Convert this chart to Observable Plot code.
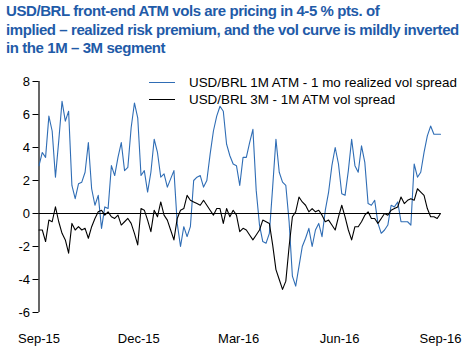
<!DOCTYPE html>
<html>
<head>
<meta charset="utf-8">
<script src="https://cdn.jsdelivr.net/npm/d3@7"></script>
<script src="https://cdn.jsdelivr.net/npm/@observablehq/plot@0.6"></script>
<style>
  html, body { margin: 0; padding: 0; background: #fff; }
  #wrap { position: relative; width: 473px; height: 352px; overflow: hidden; font-family: "Liberation Sans", Arial, sans-serif; }
  #title { position: absolute; left: 6px; top: 2px; color: #1f5ba8; font-weight: bold; font-size: 15px; letter-spacing: -0.42px; line-height: 18.5px; white-space: nowrap; }
  #chart { position: absolute; left: 0; top: 60px; }
  #legend { position: absolute; left: 149px; top: 74px; font-size: 13.4px; color: #000; }
  .li { position: relative; height: 17px; line-height: 17px; white-space: nowrap; }
  .li span.sw { position: absolute; left: 0; top: 8px; width: 26px; height: 0; border-top: 1.3px solid; }
  .li span.tx { position: absolute; left: 40px; top: 0; }
</style>
</head>
<body>
<div id="wrap">
  <div id="title">USD/BRL front-end ATM vols are pricing in 4-5 % pts. of<br>implied – realized risk premium, and the vol curve is mildly inverted<br>in the 1M – 3M segment</div>
  <div id="chart"></div>
  <div id="legend"></div>
</div>
<script>
const dates = [
"2015-09-01","2015-09-04","2015-09-07","2015-09-10","2015-09-13","2015-09-16","2015-09-19","2015-09-22","2015-09-25","2015-09-28",
"2015-10-01","2015-10-04","2015-10-07","2015-10-10","2015-10-13","2015-10-16","2015-10-19","2015-10-22","2015-10-25","2015-10-28","2015-10-31",
"2015-11-03","2015-11-06","2015-11-09","2015-11-12","2015-11-15","2015-11-18","2015-11-21","2015-11-24","2015-11-27","2015-11-30",
"2015-12-03","2015-12-06","2015-12-09","2015-12-12","2015-12-15","2015-12-18","2015-12-21","2015-12-24","2015-12-27","2015-12-30",
"2016-01-02","2016-01-05","2016-01-08","2016-01-11","2016-01-14","2016-01-17","2016-01-20","2016-01-23","2016-01-26","2016-01-29",
"2016-02-01","2016-02-04","2016-02-07","2016-02-10","2016-02-13","2016-02-16","2016-02-19","2016-02-22","2016-02-25","2016-02-28",
"2016-03-02","2016-03-05","2016-03-08","2016-03-11","2016-03-14","2016-03-17","2016-03-20","2016-03-23","2016-03-26","2016-03-29",
"2016-04-01","2016-04-04","2016-04-07","2016-04-10","2016-04-13","2016-04-16","2016-04-19","2016-04-22","2016-04-25","2016-04-28",
"2016-05-01","2016-05-04","2016-05-07","2016-05-10","2016-05-13","2016-05-16","2016-05-19","2016-05-22","2016-05-25","2016-05-28","2016-05-31",
"2016-06-03","2016-06-06","2016-06-09","2016-06-12","2016-06-15","2016-06-18","2016-06-21","2016-06-24","2016-06-27","2016-06-30",
"2016-07-03","2016-07-06","2016-07-09","2016-07-12","2016-07-15","2016-07-18","2016-07-21","2016-07-24","2016-07-27","2016-07-30",
"2016-08-02","2016-08-05","2016-08-08","2016-08-11","2016-08-14","2016-08-17","2016-08-20","2016-08-23","2016-08-26","2016-08-29",
"2016-09-01"];

// USD/BRL 1M ATM - 1 mo realized vol spread
const spread1mRealized = [
2.9,3.7,3.4,5.9,5.0,2.2,4.4,6.8,5.6,6.2,
1.7,0.9,1.8,1.9,2.5,4.3,1.5,0.5,1.1,-0.9,0.4,
0.3,2.9,2.3,3.4,4.3,2.6,2.8,5.2,6.7,5.8,
2.3,2.6,1.3,2.5,4.5,3.7,2.2,2.4,1.6,2.1,
2.6,-0.6,-2.0,-0.8,-1.4,-0.8,2.0,2.2,2.3,1.6,
2.0,3.6,5.0,5.9,6.5,6.2,4.2,3.5,3.0,2.9,
1.7,3.4,3.4,4.3,5.1,1.4,-0.7,-1.7,-1.8,-1.2,
1.6,4.5,2.5,1.9,1.7,-0.5,-3.8,-4.4,-3.2,-2.0,
-1.5,-0.9,-2.0,-1.0,-0.6,-1.4,0.2,1.3,2.9,4.0,3.0,
1.2,1.1,2.6,4.5,2.9,2.5,4.1,3.1,0.6,0.5,
0.8,-0.6,-1.2,-1.0,-0.7,0.5,0.4,0.7,-0.5,-0.5,
-0.5,-0.7,3.0,2.2,2.5,3.7,4.7,5.3,4.8,4.8,
4.8];

// USD/BRL 3M - 1M ATM vol spread
const spread3m1m = [
-1.0,-1.0,-1.7,-0.4,-0.5,0.4,-0.5,-1.2,-1.6,-2.4,
-0.6,-1.0,-0.8,-1.0,-0.9,-1.5,-0.8,-0.3,0.1,0.2,-0.1,
0.1,-0.2,-0.3,-0.1,-0.7,-0.5,-0.3,-0.6,-1.2,-1.9,
0.3,0.2,-0.4,-1.1,0.2,-0.2,0.7,-0.1,-0.4,-1.0,
-1.6,-0.3,0.2,0.3,1.1,0.8,0.7,0.6,0.5,0.8,
0.5,0.2,-0.1,0.3,0.3,-0.6,0.3,-0.2,0.2,-0.1,
-1.1,-0.9,-1.0,-1.3,-1.6,-1.3,-1.0,-0.4,-0.5,-0.6,
-1.9,-3.4,-4.0,-4.6,-4.1,-2.0,-0.2,0.1,1.0,0.7,
0.5,0.1,0.3,0.1,0.2,-0.1,-0.5,-0.4,-0.7,-1.0,-0.2,
0.5,-0.2,-1.0,-1.6,-0.8,-0.8,-0.5,-0.1,0.1,-0.3,
-0.3,-0.6,-0.3,0.0,-0.1,0.2,0.3,0.4,1.0,0.6,
0.8,0.9,0.8,1.5,1.3,1.1,0.3,-0.2,-0.2,-0.3,
0.0];

const seriesNames = ["USD/BRL 1M ATM - 1 mo realized vol spread", "USD/BRL 3M - 1M ATM vol spread"];
const seriesColors = ["#2f6db5", "#000000"];
const yTicks = [-6, -4, -2, 0, 2, 4, 6, 8];
const xTickDates = ["2015-09-01", "2015-12-01", "2016-03-01", "2016-06-01", "2016-09-01"];
const xTickLabels = ["Sep-15", "Dec-15", "Mar-16", "Jun-16", "Sep-16"];

const parse = d3.utcParse("%Y-%m-%d");
const rows = [];
dates.forEach((d, i) => {
  rows.push({date: parse(d), value: spread1mRealized[i], series: seriesNames[0]});
  rows.push({date: parse(d), value: spread3m1m[i], series: seriesNames[1]});
});
const tickDates = xTickDates.map(parse);
const labelOf = new Map(tickDates.map((d, i) => [+d, xTickLabels[i]]));
const x0 = parse(dates[0]), x1 = parse(dates[dates.length - 1]);

const chart = Plot.plot({
  width: 473,
  height: 292,
  marginLeft: 38.5,
  marginRight: 33,
  marginTop: 21,
  marginBottom: 40,
  style: {fontFamily: "'Liberation Sans', Arial, sans-serif", fontSize: "13px", color: "#000", background: "#fff"},
  x: {type: "utc", domain: [x0, x1]},
  y: {domain: [yTicks[0], yTicks[yTicks.length - 1]]},
  color: {domain: seriesNames, range: seriesColors},
  marks: [
    Plot.axisY({ticks: yTicks, tickSize: 6, tickPadding: 3, label: null, tickFormat: d => d < 0 ? "-" + Math.abs(d) : String(d)}),
    Plot.axisX({ticks: tickDates, tickSize: 0, tickPadding: 21, label: null, tickFormat: d => labelOf.get(+d)}),
    Plot.ruleX([x0], {y1: yTicks[0], y2: yTicks[yTicks.length - 1], stroke: "#000", strokeWidth: 1.2}),
    Plot.lineY(rows, {x: "date", y: "value", stroke: "series", z: "series", strokeWidth: 1.1, curve: "linear"}),
    Plot.ruleY([0], {stroke: "#000", strokeWidth: 1.2})
  ]
});
document.getElementById("chart").appendChild(chart);

const legend = document.getElementById("legend");
seriesNames.forEach((name, i) => {
  const row = document.createElement("div");
  row.className = "li";
  const sw = document.createElement("span");
  sw.className = "sw";
  sw.style.borderTopColor = seriesColors[i];
  const tx = document.createElement("span");
  tx.className = "tx";
  tx.textContent = name;
  row.appendChild(sw);
  row.appendChild(tx);
  legend.appendChild(row);
});
</script>
</body>
</html>
